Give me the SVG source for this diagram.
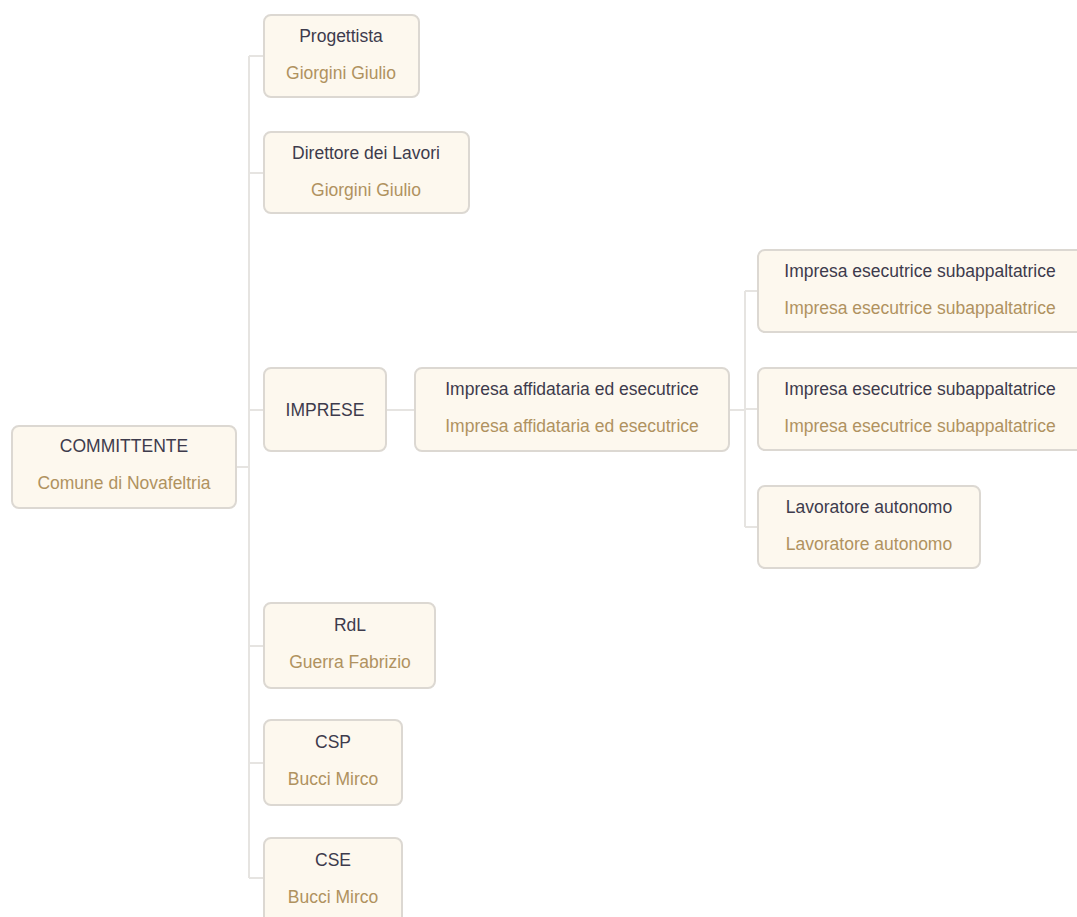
<svg xmlns="http://www.w3.org/2000/svg" width="1077" height="917" viewBox="0 0 1077 917">
<style>
.box{fill:#fdf8ee;stroke:#dcd8d2;stroke-width:2}
.t{font-family:"Liberation Sans",Arial,sans-serif;font-size:17.5px;text-anchor:middle;fill:#3d3b4c}
.s{font-family:"Liberation Sans",Arial,sans-serif;font-size:17.5px;text-anchor:middle;fill:#b0925f}
.c{stroke:#e6e4e1;stroke-width:2;fill:none}
</style>
<rect width="1077" height="917" fill="#ffffff"/>
<g id="connectors">
<path class="c" d="M236 467H249M249 56V878M249 56H264M249 173H264M249 410H264M249 646H264M249 763H264M249 878H264"/>
<path class="c" d="M386 410H415M729 410H745M745 291V527M745 291H758M745 409H758M745 527H758"/>
</g>
<g id="committente">
<rect class="box" x="12" y="426" width="224" height="82" rx="7"/>
<text class="t" x="124" y="452">COMMITTENTE</text>
<text class="s" x="124" y="489">Comune di Novafeltria</text>
</g>
<g id="progettista">
<rect class="box" x="264" y="15" width="155" height="82" rx="7"/>
<text class="t" x="341" y="42">Progettista</text>
<text class="s" x="341" y="79">Giorgini Giulio</text>
</g>
<g id="direttore">
<rect class="box" x="264" y="132" width="205" height="81" rx="7"/>
<text class="t" x="366" y="159">Direttore dei Lavori</text>
<text class="s" x="366" y="196">Giorgini Giulio</text>
</g>
<g id="imprese">
<rect class="box" x="264" y="368" width="122" height="83" rx="7"/>
<text class="t" x="325" y="416">IMPRESE</text>
</g>
<g id="affidataria">
<rect class="box" x="415" y="368" width="314" height="83" rx="7"/>
<text class="t" x="572" y="395">Impresa affidataria ed esecutrice</text>
<text class="s" x="572" y="432">Impresa affidataria ed esecutrice</text>
</g>
<g id="sub1">
<rect class="box" x="758" y="250" width="326" height="82" rx="7"/>
<text class="t" x="920" y="277">Impresa esecutrice subappaltatrice</text>
<text class="s" x="920" y="314">Impresa esecutrice subappaltatrice</text>
</g>
<g id="sub2">
<rect class="box" x="758" y="368" width="326" height="82" rx="7"/>
<text class="t" x="920" y="395">Impresa esecutrice subappaltatrice</text>
<text class="s" x="920" y="432">Impresa esecutrice subappaltatrice</text>
</g>
<g id="lavoratore">
<rect class="box" x="758" y="486" width="222" height="82" rx="7"/>
<text class="t" x="869" y="513">Lavoratore autonomo</text>
<text class="s" x="869" y="550">Lavoratore autonomo</text>
</g>
<g id="rdl">
<rect class="box" x="264" y="603" width="171" height="85" rx="7"/>
<text class="t" x="350" y="631">RdL</text>
<text class="s" x="350" y="668">Guerra Fabrizio</text>
</g>
<g id="csp">
<rect class="box" x="264" y="720" width="138" height="85" rx="7"/>
<text class="t" x="333" y="748">CSP</text>
<text class="s" x="333" y="785">Bucci Mirco</text>
</g>
<g id="cse">
<rect class="box" x="264" y="838" width="138" height="85" rx="7"/>
<text class="t" x="333" y="866">CSE</text>
<text class="s" x="333" y="903">Bucci Mirco</text>
</g>
</svg>
